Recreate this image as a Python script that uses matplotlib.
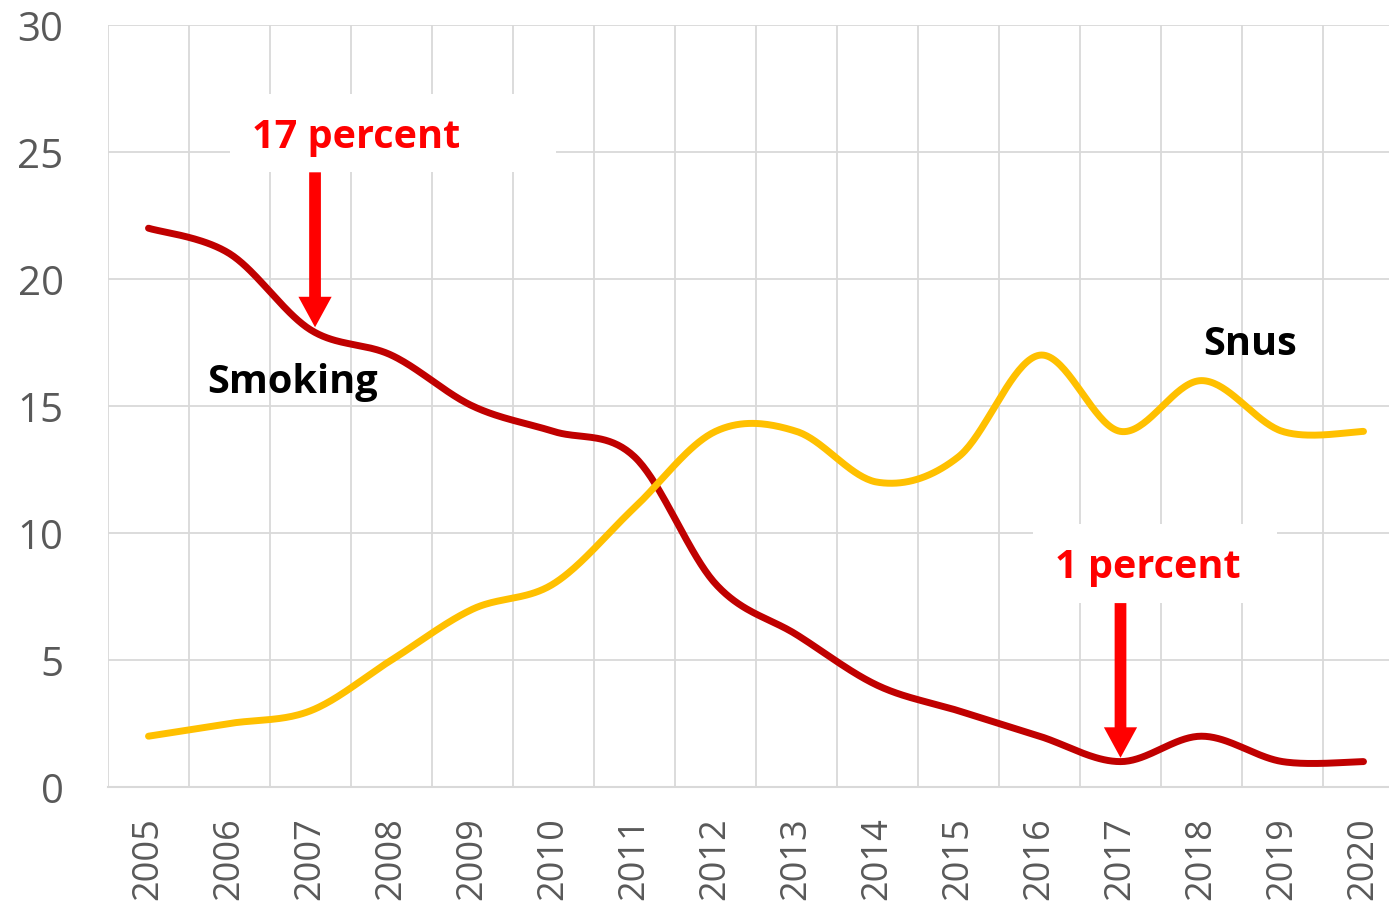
import numpy as np
import matplotlib
matplotlib.use("Agg")
import matplotlib.pyplot as plt
from matplotlib.patches import Rectangle, FancyArrow

plt.rcParams['font.family'] = ['Open Sans', 'DejaVu Sans']

years = [str(y) for y in range(2005, 2021)]
smoking = [22, 21, 18, 17, 15, 14, 13, 8, 6, 4, 3, 2, 1, 2, 1, 1]
snus = [2, 2.5, 3, 5, 7, 8, 11, 14, 14, 12, 13, 17, 14, 16, 14, 14]
yticks = [0, 5, 10, 15, 20, 25, 30]


def smooth(y, n=40):
    # excel-style smoothed line: cubic bezier with catmull-rom control points
    y = np.asarray(y, float)
    x = np.arange(len(y), dtype=float)
    px = np.concatenate([[x[0]], x, [x[-1]]])
    py = np.concatenate([[y[0]], y, [y[-1]]])
    t = np.linspace(0, 1, n)[:, None]
    xs, ys = [], []
    for i in range(len(y) - 1):
        p0 = np.array([px[i + 1], py[i + 1]])
        p3 = np.array([px[i + 2], py[i + 2]])
        p1 = p0 + (p3 - np.array([px[i], py[i]])) / 6
        p2 = p3 - (np.array([px[i + 3], py[i + 3]]) - p0) / 6
        b = ((1 - t) ** 3) * p0 + 3 * ((1 - t) ** 2) * t * p1 + 3 * (1 - t) * t ** 2 * p2 + t ** 3 * p3
        xs.append(b[:, 0])
        ys.append(b[:, 1])
    return np.concatenate(xs), np.concatenate(ys)


W, H = 1389, 904
fig = plt.figure(figsize=(W / 100, H / 100), dpi=100)
ax = fig.add_axes([108 / W, 116 / H, 16 * 81 / W, 762 / H])

grid = '#d9d9d9'
x = np.arange(len(years))
ax.set_xlim(-0.5, len(years) - 0.5)
ax.set_ylim(0, 30)
for b in np.arange(-0.5, len(years), 1.0):
    ax.axvline(b, color=grid, lw=1.3, zorder=0)
for v in yticks[1:]:
    ax.axhline(v, color=grid, lw=1.3, zorder=0)

for s in ['top', 'right', 'left']:
    ax.spines[s].set_visible(False)
ax.spines['bottom'].set_color(grid)
ax.spines['bottom'].set_linewidth(1.5)

ax.set_xticks(x)
ax.set_xticklabels(years, rotation=90)
ax.set_yticks(yticks)
ax.tick_params(axis='both', length=0, labelcolor='#595959')
ax.tick_params(axis='y', pad=32, labelsize=29)
ax.tick_params(axis='x', pad=21, labelsize=26)

sx, sy = smooth(smoking)
ax.plot(sx, sy, color='#c00000', lw=5, solid_capstyle='round', zorder=3)
nx, ny = smooth(snus)
ax.plot(nx, ny, color='#ffc000', lw=5, solid_capstyle='round', zorder=3)

# white boxes behind the callouts
ax.add_patch(Rectangle((1.006, 24.21), 4.03, 3.07, facecolor='white', edgecolor='none', zorder=1))
ax.add_patch(Rectangle((10.92, 7.24), 3.01, 3.11, facecolor='white', edgecolor='none', zorder=1))

ax.text(2.56, 25.6, '17 percent', color='red', fontsize=28.5, fontweight='bold',
        ha='center', va='center', zorder=4)
ax.text(12.34, 8.7, '1 percent', color='red', fontsize=28.5, fontweight='bold',
        ha='center', va='center', zorder=4)

ax.add_patch(FancyArrow(2.056, 24.2, 0, 18.1 - 24.2, width=0.145, head_width=0.41,
                        head_length=1.2, length_includes_head=True,
                        color='red', lw=0, zorder=5))
ax.add_patch(FancyArrow(12.0, 7.24, 0, 1.15 - 7.24, width=0.145, head_width=0.41,
                        head_length=1.2, length_includes_head=True,
                        color='red', lw=0, zorder=5))

ax.text(1.78, 15.95, 'Smoking', color='black', fontsize=28.5, fontweight='bold',
        ha='center', va='center', zorder=4)
ax.text(13.6, 17.45, 'Snus', color='black', fontsize=28.5, fontweight='bold',
        ha='center', va='center', zorder=4)

fig.savefig('out.png', dpi=100)
